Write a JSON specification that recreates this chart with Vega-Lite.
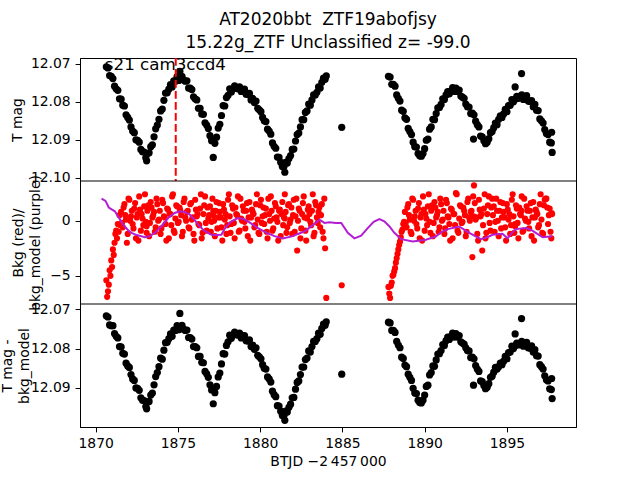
{
"$schema": "https://vega.github.io/schema/vega-lite/v6.json",
"width": 496, "height": 369,
"autosize": {"type": "none"},
"padding": {"left": 80, "top": 58, "right": 64, "bottom": 53},
"background": "white",
"title": {"text": ["AT2020bbt\u00a0 ZTF19abofjsy", "15.22g_ZTF Unclassified z= -99.0"], "anchor": "middle", "frame": "group", "font": "DejaVu Sans", "fontSize": 17, "fontWeight": "normal", "lineHeight": 23, "offset": 5, "color": "black"},
"config": {
  "view": {"stroke": "black", "strokeWidth": 1},
  "axis": {"domainColor": "black", "tickColor": "black", "labelColor": "black", "titleColor": "black", "labelFont": "DejaVu Sans", "titleFont": "DejaVu Sans", "labelFontSize": 13.9, "titleFontSize": 13.9, "titleFontWeight": "normal", "tickSize": 4.9, "labelPadding": 4.9, "grid": false, "domainWidth": 1, "tickWidth": 1, "labelFlush": false, "labelOverlap": false}
},
"datasets": {
"lc": [
{"t":1870.65,"m":12.0708,"b":-5.4,"c":12.0717},
{"t":1870.75,"m":12.0711,"b":-6.4,"c":12.0720},
{"t":1870.85,"m":12.0731,"b":-4.5,"c":12.0740},
{"t":1870.95,"m":12.0733,"b":-3.6,"c":12.0742},
{"t":1871.05,"m":12.0739,"b":-2.6,"c":12.0742},
{"t":1871.15,"m":12.0759,"b":-2.0,"c":12.0762},
{"t":1871.25,"m":12.0766,"b":-0.9,"c":12.0769},
{"t":1871.35,"m":12.0770,"b":-0.3,"c":12.0773},
{"t":1871.45,"m":12.0792,"b":0.5,"c":12.0795},
{"t":1871.55,"m":12.0793,"b":0.8,"c":12.0796},
{"t":1871.65,"m":12.0809,"b":-0.6,"c":12.0812},
{"t":1871.75,"m":12.0811,"b":1.5,"c":12.0814},
{"t":1871.85,"m":12.0834,"b":0.1,"c":12.0837},
{"t":1871.95,"m":12.0841,"b":-1.2,"c":12.0844},
{"t":1872.05,"m":12.0848,"b":1.9,"c":12.0848},
{"t":1872.15,"m":12.0866,"b":0.4,"c":12.0866},
{"t":1872.25,"m":12.0877,"b":-0.3,"c":12.0877},
{"t":1872.35,"m":12.0881,"b":1.1,"c":12.0881},
{"t":1872.45,"m":12.0900,"b":-1.6,"c":12.0900},
{"t":1872.55,"m":12.0901,"b":0.6,"c":12.0901},
{"t":1872.65,"m":12.0906,"b":2.2,"c":12.0906},
{"t":1872.75,"m":12.0925,"b":-0.9,"c":12.0925},
{"t":1872.85,"m":12.0931,"b":0.2,"c":12.0931},
{"t":1872.95,"m":12.0932,"b":1.3,"c":12.0932},
{"t":1873.05,"m":12.0947,"b":-0.1,"c":12.0947},
{"t":1873.15,"m":12.0936,"b":0.9,"c":12.0936},
{"t":1873.25,"m":12.0934,"b":-1.4,"c":12.0934},
{"t":1873.35,"m":12.0918,"b":1.7,"c":12.0918},
{"t":1873.45,"m":12.0913,"b":0.3,"c":12.0913},
{"t":1873.55,"m":12.0892,"b":0.8,"c":12.0892},
{"t":1873.65,"m":12.0871,"b":-0.6,"c":12.0871},
{"t":1873.75,"m":12.0861,"b":1.5,"c":12.0861},
{"t":1873.85,"m":12.0846,"b":0.1,"c":12.0846},
{"t":1873.95,"m":12.0824,"b":-1.2,"c":12.0824},
{"t":1874.05,"m":12.0819,"b":1.9,"c":12.0827},
{"t":1874.15,"m":12.0796,"b":0.4,"c":12.0804},
{"t":1874.25,"m":12.0777,"b":-0.3,"c":12.0785},
{"t":1874.35,"m":12.0776,"b":1.1,"c":12.0784},
{"t":1874.45,"m":12.0767,"b":-1.6,"c":12.0775},
{"t":1874.55,"m":12.0755,"b":0.6,"c":12.0763},
{"t":1874.65,"m":12.0761,"b":2.2,"c":12.0769},
{"t":1874.75,"m":12.0745,"b":-0.9,"c":12.0753},
{"t":1874.85,"m":12.0746,"b":0.2,"c":12.0754},
{"t":1874.95,"m":12.0734,"b":1.3,"c":12.0742},
{"t":1875.05,"m":12.0744,"b":-0.1,"c":12.0752},
{"t":1875.15,"m":12.0736,"b":0.9,"c":12.0744},
{"t":1875.25,"m":12.0733,"b":-1.4,"c":12.0741},
{"t":1875.35,"m":12.0743,"b":1.7,"c":12.0751},
{"t":1875.45,"m":12.0746,"b":0.3,"c":12.0754},
{"t":1875.55,"m":12.0745,"b":0.8,"c":12.0753},
{"t":1875.65,"m":12.0764,"b":-0.6,"c":12.0772},
{"t":1875.75,"m":12.0764,"b":1.5,"c":12.0772},
{"t":1875.85,"m":12.0768,"b":0.1,"c":12.0776},
{"t":1875.95,"m":12.0787,"b":-1.2,"c":12.0795},
{"t":1876.05,"m":12.0792,"b":1.9,"c":12.0795},
{"t":1876.15,"m":12.0795,"b":0.4,"c":12.0798},
{"t":1876.25,"m":12.0817,"b":-0.3,"c":12.0820},
{"t":1876.35,"m":12.0817,"b":1.1,"c":12.0820},
{"t":1876.45,"m":12.0832,"b":-1.6,"c":12.0835},
{"t":1876.55,"m":12.0833,"b":0.6,"c":12.0836},
{"t":1876.65,"m":12.0855,"b":2.2,"c":12.0858},
{"t":1876.75,"m":12.0861,"b":-0.9,"c":12.0864},
{"t":1876.85,"m":12.0870,"b":0.2,"c":12.0873},
{"t":1876.95,"m":12.0889,"b":1.3,"c":12.0892},
{"t":1877.05,"m":12.0902,"b":-0.1,"c":12.0905},
{"t":1877.15,"m":12.0901,"b":0.9,"c":12.0904},
{"t":1877.25,"m":12.0909,"b":-1.4,"c":12.0912},
{"t":1877.35,"m":12.0893,"b":1.7,"c":12.0896},
{"t":1877.45,"m":12.0869,"b":0.3,"c":12.0872},
{"t":1877.55,"m":12.0859,"b":0.8,"c":12.0862},
{"t":1877.65,"m":12.0836,"b":-0.6,"c":12.0839},
{"t":1877.75,"m":12.0810,"b":1.5,"c":12.0813},
{"t":1877.85,"m":12.0811,"b":0.1,"c":12.0814},
{"t":1877.95,"m":12.0789,"b":-1.2,"c":12.0792},
{"t":1878.05,"m":12.0783,"b":1.9,"c":12.0783},
{"t":1878.15,"m":12.0766,"b":0.4,"c":12.0766},
{"t":1878.25,"m":12.0774,"b":-0.3,"c":12.0774},
{"t":1878.35,"m":12.0766,"b":1.1,"c":12.0766},
{"t":1878.45,"m":12.0758,"b":-1.6,"c":12.0758},
{"t":1878.55,"m":12.0764,"b":0.6,"c":12.0764},
{"t":1878.65,"m":12.0766,"b":2.2,"c":12.0766},
{"t":1878.75,"m":12.0761,"b":-0.9,"c":12.0761},
{"t":1878.85,"m":12.0773,"b":0.2,"c":12.0773},
{"t":1878.95,"m":12.0768,"b":1.3,"c":12.0768},
{"t":1879.05,"m":12.0767,"b":-0.1,"c":12.0767},
{"t":1879.15,"m":12.0780,"b":0.9,"c":12.0780},
{"t":1879.25,"m":12.0781,"b":-1.4,"c":12.0781},
{"t":1879.35,"m":12.0778,"b":1.7,"c":12.0778},
{"t":1879.45,"m":12.0795,"b":0.3,"c":12.0795},
{"t":1879.55,"m":12.0791,"b":0.8,"c":12.0791},
{"t":1879.65,"m":12.0802,"b":-0.6,"c":12.0802},
{"t":1879.75,"m":12.0798,"b":1.5,"c":12.0798},
{"t":1879.85,"m":12.0817,"b":0.1,"c":12.0817},
{"t":1879.95,"m":12.0821,"b":-1.2,"c":12.0821},
{"t":1880.05,"m":12.0826,"b":1.9,"c":12.0826},
{"t":1880.15,"m":12.0841,"b":0.4,"c":12.0841},
{"t":1880.25,"m":12.0850,"b":-0.3,"c":12.0850},
{"t":1880.35,"m":12.0852,"b":1.1,"c":12.0852},
{"t":1880.45,"m":12.0872,"b":-1.6,"c":12.0872},
{"t":1880.55,"m":12.0877,"b":0.6,"c":12.0877},
{"t":1880.65,"m":12.0885,"b":2.2,"c":12.0885},
{"t":1880.75,"m":12.0908,"b":-0.9,"c":12.0908},
{"t":1880.85,"m":12.0917,"b":0.2,"c":12.0917},
{"t":1880.95,"m":12.0922,"b":1.3,"c":12.0922},
{"t":1881.05,"m":12.0945,"b":-0.1,"c":12.0945},
{"t":1881.15,"m":12.0946,"b":0.9,"c":12.0946},
{"t":1881.25,"m":12.0959,"b":-1.4,"c":12.0959},
{"t":1881.35,"m":12.0970,"b":1.7,"c":12.0970},
{"t":1881.45,"m":12.0970,"b":0.3,"c":12.0970},
{"t":1881.55,"m":12.0959,"b":0.8,"c":12.0959},
{"t":1881.65,"m":12.0961,"b":-0.6,"c":12.0961},
{"t":1881.75,"m":12.0949,"b":1.5,"c":12.0949},
{"t":1881.85,"m":12.0941,"b":0.1,"c":12.0941},
{"t":1881.95,"m":12.0925,"b":-1.2,"c":12.0925},
{"t":1882.05,"m":12.0924,"b":1.9,"c":12.0924},
{"t":1882.15,"m":12.0903,"b":0.4,"c":12.0903},
{"t":1882.25,"m":12.0886,"b":-2.7,"c":12.0886},
{"t":1882.35,"m":12.0882,"b":1.1,"c":12.0882},
{"t":1882.45,"m":12.0866,"b":-1.6,"c":12.0866},
{"t":1882.55,"m":12.0847,"b":0.6,"c":12.0847},
{"t":1882.65,"m":12.0847,"b":2.2,"c":12.0847},
{"t":1882.75,"m":12.0828,"b":-0.9,"c":12.0828},
{"t":1882.85,"m":12.0824,"b":0.2,"c":12.0824},
{"t":1882.95,"m":12.0806,"b":1.3,"c":12.0806},
{"t":1883.05,"m":12.0809,"b":-0.1,"c":12.0809},
{"t":1883.15,"m":12.0795,"b":0.9,"c":12.0795},
{"t":1883.25,"m":12.0782,"b":-1.4,"c":12.0782},
{"t":1883.35,"m":12.0782,"b":1.7,"c":12.0782},
{"t":1883.45,"m":12.0775,"b":0.3,"c":12.0775},
{"t":1883.55,"m":12.0761,"b":0.8,"c":12.0761},
{"t":1883.65,"m":12.0764,"b":-0.6,"c":12.0764},
{"t":1883.75,"m":12.0749,"b":1.5,"c":12.0749},
{"t":1883.85,"m":12.0738,"b":-1.6,"c":12.0738},
{"t":1883.95,"m":12.0741,"b":-2.5,"c":12.0741},
{"t":1884.02,"m":12.0732,"b":-7.0,"c":12.0732},
{"t":1884.96,"m":12.0867,"b":-5.85,"c":12.0865},
{"t":1877.15,"m":12.0946,"b":0.5,"c":12.0940},
{"t":1875.12,"m":12.0720,"b":1.0,"c":12.0711},
{"t":1881.50,"m":12.0985,"b":0.2,"c":12.0982},
{"t":1873.10,"m":12.0955,"b":-0.5,"c":12.0953},
{"t":1887.80,"m":12.0733,"b":-6.0,"c":12.0733},
{"t":1887.90,"m":12.0735,"b":-7.0,"c":12.0735},
{"t":1888.00,"m":12.0754,"b":-5.6,"c":12.0754},
{"t":1888.10,"m":12.0754,"b":-4.9,"c":12.0754},
{"t":1888.20,"m":12.0759,"b":-4.3,"c":12.0759},
{"t":1888.30,"m":12.0782,"b":-3.4,"c":12.0782},
{"t":1888.40,"m":12.0791,"b":-2.6,"c":12.0791},
{"t":1888.50,"m":12.0798,"b":-1.9,"c":12.0798},
{"t":1888.60,"m":12.0822,"b":-1.0,"c":12.0822},
{"t":1888.70,"m":12.0825,"b":-0.3,"c":12.0825},
{"t":1888.80,"m":12.0842,"b":0.8,"c":12.0842},
{"t":1888.90,"m":12.0846,"b":-0.6,"c":12.0846},
{"t":1889.00,"m":12.0870,"b":1.5,"c":12.0865},
{"t":1889.10,"m":12.0878,"b":0.1,"c":12.0873},
{"t":1889.20,"m":12.0886,"b":-1.2,"c":12.0881},
{"t":1889.30,"m":12.0906,"b":1.9,"c":12.0901},
{"t":1889.40,"m":12.0918,"b":0.4,"c":12.0913},
{"t":1889.50,"m":12.0919,"b":-0.3,"c":12.0914},
{"t":1889.60,"m":12.0936,"b":1.1,"c":12.0931},
{"t":1889.70,"m":12.0942,"b":-1.6,"c":12.0937},
{"t":1889.80,"m":12.0943,"b":0.6,"c":12.0938},
{"t":1889.90,"m":12.0936,"b":2.2,"c":12.0931},
{"t":1890.00,"m":12.0923,"b":-0.9,"c":12.0918},
{"t":1890.10,"m":12.0901,"b":0.2,"c":12.0896},
{"t":1890.20,"m":12.0898,"b":1.3,"c":12.0893},
{"t":1890.30,"m":12.0872,"b":-0.1,"c":12.0867},
{"t":1890.40,"m":12.0866,"b":0.9,"c":12.0861},
{"t":1890.50,"m":12.0846,"b":-1.4,"c":12.0844},
{"t":1890.60,"m":12.0847,"b":1.7,"c":12.0845},
{"t":1890.70,"m":12.0831,"b":0.3,"c":12.0829},
{"t":1890.80,"m":12.0816,"b":0.8,"c":12.0814},
{"t":1890.90,"m":12.0815,"b":-0.6,"c":12.0813},
{"t":1891.00,"m":12.0807,"b":1.5,"c":12.0805},
{"t":1891.10,"m":12.0792,"b":0.1,"c":12.0790},
{"t":1891.20,"m":12.0794,"b":-1.2,"c":12.0792},
{"t":1891.30,"m":12.0782,"b":1.9,"c":12.0780},
{"t":1891.40,"m":12.0773,"b":0.4,"c":12.0771},
{"t":1891.50,"m":12.0779,"b":-0.3,"c":12.0777},
{"t":1891.60,"m":12.0771,"b":1.1,"c":12.0769},
{"t":1891.70,"m":12.0763,"b":-1.6,"c":12.0761},
{"t":1891.80,"m":12.0773,"b":0.6,"c":12.0771},
{"t":1891.90,"m":12.0764,"b":2.5,"c":12.0762},
{"t":1892.00,"m":12.0773,"b":-0.9,"c":12.0771},
{"t":1892.10,"m":12.0769,"b":0.2,"c":12.0767},
{"t":1892.20,"m":12.0785,"b":1.3,"c":12.0783},
{"t":1892.30,"m":12.0788,"b":-0.1,"c":12.0786},
{"t":1892.40,"m":12.0791,"b":0.9,"c":12.0789},
{"t":1892.50,"m":12.0806,"b":-1.4,"c":12.0798},
{"t":1892.60,"m":12.0813,"b":1.7,"c":12.0805},
{"t":1892.70,"m":12.0814,"b":0.3,"c":12.0806},
{"t":1892.80,"m":12.0831,"b":0.8,"c":12.0823},
{"t":1892.90,"m":12.0830,"b":-3.3,"c":12.0822},
{"t":1893.00,"m":12.0834,"b":3.2,"c":12.0826},
{"t":1893.10,"m":12.0851,"b":0.1,"c":12.0843},
{"t":1893.20,"m":12.0860,"b":-1.2,"c":12.0852},
{"t":1893.30,"m":12.0866,"b":1.9,"c":12.0858},
{"t":1893.40,"m":12.0890,"b":0.4,"c":12.0882},
{"t":1893.50,"m":12.0892,"b":-2.7,"c":12.0884},
{"t":1893.60,"m":12.0902,"b":1.1,"c":12.0894},
{"t":1893.70,"m":12.0910,"b":-1.6,"c":12.0902},
{"t":1893.80,"m":12.0906,"b":0.6,"c":12.0898},
{"t":1893.90,"m":12.0897,"b":2.2,"c":12.0889},
{"t":1894.00,"m":12.0881,"b":-0.9,"c":12.0873},
{"t":1894.10,"m":12.0878,"b":2.0,"c":12.0870},
{"t":1894.20,"m":12.0868,"b":1.3,"c":12.0860},
{"t":1894.30,"m":12.0856,"b":-0.1,"c":12.0848},
{"t":1894.40,"m":12.0860,"b":0.9,"c":12.0852},
{"t":1894.50,"m":12.0846,"b":-1.4,"c":12.0846},
{"t":1894.60,"m":12.0837,"b":1.7,"c":12.0837},
{"t":1894.70,"m":12.0841,"b":0.3,"c":12.0841},
{"t":1894.80,"m":12.0832,"b":0.8,"c":12.0832},
{"t":1894.90,"m":12.0820,"b":-0.6,"c":12.0820},
{"t":1895.00,"m":12.0826,"b":1.5,"c":12.0826},
{"t":1895.10,"m":12.0810,"b":0.1,"c":12.0810},
{"t":1895.20,"m":12.0809,"b":-1.2,"c":12.0809},
{"t":1895.30,"m":12.0794,"b":1.9,"c":12.0794},
{"t":1895.40,"m":12.0800,"b":0.4,"c":12.0800},
{"t":1895.50,"m":12.0793,"b":-0.3,"c":12.0793},
{"t":1895.60,"m":12.0786,"b":1.1,"c":12.0786},
{"t":1895.70,"m":12.0791,"b":-1.6,"c":12.0791},
{"t":1895.80,"m":12.0788,"b":0.6,"c":12.0788},
{"t":1895.90,"m":12.0782,"b":2.2,"c":12.0782},
{"t":1896.00,"m":12.0794,"b":-0.9,"c":12.0794},
{"t":1896.10,"m":12.0787,"b":0.2,"c":12.0787},
{"t":1896.20,"m":12.0784,"b":1.3,"c":12.0784},
{"t":1896.30,"m":12.0798,"b":-0.1,"c":12.0798},
{"t":1896.40,"m":12.0799,"b":0.9,"c":12.0799},
{"t":1896.50,"m":12.0797,"b":-1.4,"c":12.0793},
{"t":1896.60,"m":12.0813,"b":1.7,"c":12.0809},
{"t":1896.70,"m":12.0807,"b":0.3,"c":12.0803},
{"t":1896.80,"m":12.0822,"b":0.8,"c":12.0818},
{"t":1896.90,"m":12.0823,"b":-0.6,"c":12.0819},
{"t":1897.00,"m":12.0845,"b":1.5,"c":12.0841},
{"t":1897.10,"m":12.0850,"b":0.1,"c":12.0846},
{"t":1897.20,"m":12.0856,"b":-1.2,"c":12.0852},
{"t":1897.30,"m":12.0873,"b":1.9,"c":12.0869},
{"t":1897.40,"m":12.0883,"b":2.0,"c":12.0879},
{"t":1897.50,"m":12.0886,"b":-0.3,"c":12.0882},
{"t":1897.60,"m":12.0906,"b":1.1,"c":12.0902},
{"t":1897.70,"m":12.0908,"b":-1.6,"c":12.0904},
{"t":1897.75,"m":12.0933,"b":0.6,"c":12.0927},
{"t":1892.97,"m":12.0898,"b":0.4,"c":12.0893},
{"t":1895.89,"m":12.0726,"b":0.9,"c":12.0724},
{"t":1895.50,"m":12.0761,"b":-0.5,"c":12.0763},
{"t":1897.72,"m":12.0880,"b":0.7,"c":12.0876}
],
"bk2": [
{"t":1870.70,"b":-6.9},{"t":1870.80,"b":-5.8},{"t":1870.90,"b":-5.0},{"t":1871.00,"b":-4.2},{"t":1871.10,"b":-3.1},{"t":1871.20,"b":-1.2},{"t":1871.30,"b":-1.6},{"t":1871.40,"b":-1.0},{"t":1871.50,"b":-0.4},
{"t":1871.60,"b":-0.2},{"t":1871.70,"b":1.2},{"t":1871.80,"b":0.5},{"t":1871.90,"b":-2.0},{"t":1872.00,"b":2.0},{"t":1872.10,"b":0.0},{"t":1872.20,"b":0.9},{"t":1872.30,"b":-0.7},{"t":1872.40,"b":1.6},{"t":1872.50,"b":0.3},{"t":1872.60,"b":-1.8},{"t":1872.70,"b":1.0},{"t":1872.80,"b":0.6},{"t":1872.90,"b":-0.4},{"t":1873.00,"b":2.4},{"t":1873.10,"b":-1.1},{"t":1873.20,"b":1.4},
{"t":1873.30,"b":-0.2},{"t":1873.40,"b":1.2},{"t":1873.50,"b":0.5},{"t":1873.60,"b":-1.0},{"t":1873.70,"b":2.0},{"t":1873.80,"b":0.0},{"t":1873.90,"b":0.9},{"t":1874.00,"b":-0.7},{"t":1874.10,"b":1.6},{"t":1874.20,"b":0.3},{"t":1874.30,"b":-1.8},{"t":1874.40,"b":1.0},{"t":1874.50,"b":0.6},{"t":1874.60,"b":-0.4},{"t":1874.70,"b":2.4},{"t":1874.80,"b":-1.1},{"t":1874.90,"b":1.4},
{"t":1875.00,"b":-0.2},{"t":1875.10,"b":1.2},{"t":1875.20,"b":0.5},{"t":1875.30,"b":-1.0},{"t":1875.40,"b":2.0},{"t":1875.50,"b":0.0},{"t":1875.60,"b":0.9},{"t":1875.70,"b":-0.7},{"t":1875.80,"b":1.6},{"t":1875.90,"b":0.3},{"t":1876.00,"b":-1.8},{"t":1876.10,"b":1.0},{"t":1876.20,"b":0.6},{"t":1876.30,"b":-0.4},{"t":1876.40,"b":2.4},{"t":1876.50,"b":-1.1},{"t":1876.60,"b":1.4},
{"t":1876.70,"b":-0.2},{"t":1876.80,"b":1.2},{"t":1876.90,"b":0.5},{"t":1877.00,"b":-1.0},{"t":1877.10,"b":2.0},{"t":1877.20,"b":0.0},{"t":1877.30,"b":0.9},{"t":1877.40,"b":-0.7},{"t":1877.50,"b":1.6},{"t":1877.60,"b":0.3},{"t":1877.70,"b":-1.8},{"t":1877.80,"b":1.0},{"t":1877.90,"b":0.6},{"t":1878.00,"b":-0.4},{"t":1878.10,"b":2.4},{"t":1878.20,"b":-1.1},{"t":1878.30,"b":1.4},
{"t":1878.40,"b":-0.2},{"t":1878.50,"b":1.2},{"t":1878.60,"b":0.5},{"t":1878.70,"b":-1.0},{"t":1878.80,"b":2.0},{"t":1878.90,"b":0.0},{"t":1879.00,"b":0.9},{"t":1879.10,"b":-0.7},{"t":1879.20,"b":1.6},{"t":1879.30,"b":0.3},{"t":1879.40,"b":-1.8},{"t":1879.50,"b":1.0},{"t":1879.60,"b":0.6},{"t":1879.70,"b":-0.4},{"t":1879.80,"b":2.4},{"t":1879.90,"b":-1.1},{"t":1880.00,"b":1.4},
{"t":1880.10,"b":-0.2},{"t":1880.20,"b":1.2},{"t":1880.30,"b":0.5},{"t":1880.40,"b":-1.0},{"t":1880.50,"b":2.0},{"t":1880.60,"b":0.0},{"t":1880.70,"b":0.9},{"t":1880.80,"b":-0.7},{"t":1880.90,"b":1.6},{"t":1881.00,"b":0.3},{"t":1881.10,"b":-1.8},{"t":1881.20,"b":1.0},{"t":1881.30,"b":0.6},{"t":1881.40,"b":-0.4},{"t":1881.50,"b":2.4},{"t":1881.60,"b":-1.1},{"t":1881.70,"b":1.4},
{"t":1881.80,"b":-0.2},{"t":1881.90,"b":1.2},{"t":1882.00,"b":0.5},{"t":1882.10,"b":-1.0},{"t":1882.20,"b":2.0},{"t":1882.30,"b":0.0},{"t":1882.40,"b":0.9},{"t":1882.50,"b":-0.7},{"t":1882.60,"b":1.6},{"t":1882.70,"b":0.3},{"t":1882.80,"b":-1.8},{"t":1882.90,"b":1.0},{"t":1883.00,"b":0.6},{"t":1883.10,"b":-0.4},{"t":1883.20,"b":2.4},{"t":1883.30,"b":-1.1},{"t":1883.40,"b":1.4},
{"t":1883.50,"b":-0.2},{"t":1883.60,"b":1.2},{"t":1883.70,"b":0.5},{"t":1883.80,"b":-1.0},{"t":1883.90,"b":2.0},
{"t":1887.85,"b":-6.6},{"t":1887.95,"b":-5.9},{"t":1888.05,"b":-5.0},{"t":1888.15,"b":-4.6},{"t":1888.25,"b":-3.8},{"t":1888.35,"b":-3.0},{"t":1888.45,"b":-2.2},{"t":1888.55,"b":-1.5},{"t":1888.65,"b":-0.8},{"t":1888.75,"b":-0.1},
{"t":1888.85,"b":-0.2},{"t":1888.95,"b":1.2},{"t":1889.05,"b":0.5},{"t":1889.15,"b":-1.0},{"t":1889.25,"b":2.0},{"t":1889.35,"b":0.0},{"t":1889.45,"b":0.9},{"t":1889.55,"b":-0.7},{"t":1889.65,"b":1.6},{"t":1889.75,"b":0.3},{"t":1889.85,"b":-1.8},{"t":1889.95,"b":1.0},{"t":1890.05,"b":0.6},{"t":1890.15,"b":-0.4},{"t":1890.25,"b":2.4},{"t":1890.35,"b":-1.1},{"t":1890.45,"b":1.4},
{"t":1890.55,"b":-0.2},{"t":1890.65,"b":1.2},{"t":1890.75,"b":0.5},{"t":1890.85,"b":-1.0},{"t":1890.95,"b":2.0},{"t":1891.05,"b":0.0},{"t":1891.15,"b":0.9},{"t":1891.25,"b":-0.7},{"t":1891.35,"b":1.6},{"t":1891.45,"b":0.3},{"t":1891.55,"b":-1.8},{"t":1891.65,"b":1.0},{"t":1891.75,"b":0.6},{"t":1891.85,"b":-0.4},{"t":1891.95,"b":2.4},{"t":1892.05,"b":-1.1},{"t":1892.15,"b":1.4},
{"t":1892.25,"b":-0.2},{"t":1892.35,"b":1.2},{"t":1892.45,"b":0.5},{"t":1892.55,"b":-1.0},{"t":1892.65,"b":2.0},{"t":1892.75,"b":0.0},{"t":1892.85,"b":0.9},{"t":1892.95,"b":2.2},{"t":1893.05,"b":1.6},{"t":1893.15,"b":0.3},{"t":1893.25,"b":-1.8},{"t":1893.35,"b":1.0},{"t":1893.45,"b":0.6},{"t":1893.55,"b":-0.4},{"t":1893.65,"b":2.4},{"t":1893.75,"b":-1.1},{"t":1893.85,"b":1.4},
{"t":1893.95,"b":-0.2},{"t":1894.05,"b":1.2},{"t":1894.15,"b":0.5},{"t":1894.25,"b":-1.0},{"t":1894.35,"b":2.0},{"t":1894.45,"b":0.0},{"t":1894.55,"b":0.9},{"t":1894.65,"b":-0.7},{"t":1894.75,"b":1.6},{"t":1894.85,"b":0.3},{"t":1894.95,"b":-1.8},{"t":1895.05,"b":1.0},{"t":1895.15,"b":0.6},{"t":1895.25,"b":-0.4},{"t":1895.35,"b":2.4},{"t":1895.45,"b":-1.1},{"t":1895.55,"b":1.4},
{"t":1895.65,"b":-0.2},{"t":1895.75,"b":1.2},{"t":1895.85,"b":0.5},{"t":1895.95,"b":-1.0},{"t":1896.05,"b":2.0},{"t":1896.15,"b":0.0},{"t":1896.25,"b":0.9},{"t":1896.35,"b":-0.7},{"t":1896.45,"b":1.6},{"t":1896.55,"b":0.3},{"t":1896.65,"b":-1.8},{"t":1896.75,"b":1.0},{"t":1896.85,"b":0.6},{"t":1896.95,"b":-0.4},{"t":1897.05,"b":2.4},{"t":1897.15,"b":-1.1},{"t":1897.25,"b":1.4},
{"t":1897.35,"b":2.0},{"t":1897.45,"b":1.2},{"t":1897.55,"b":0.5},{"t":1897.65,"b":-1.0}
],
"model": [
{"t":1870.36,"v":2.0},{"t":1870.6,"v":1.8},{"t":1870.8,"v":1.2},{"t":1871.0,"v":1.0},{"t":1871.17,"v":0.85},{"t":1871.4,"v":0.3},{"t":1871.7,"v":-0.4},{"t":1872.0,"v":-0.9},{"t":1872.18,"v":-1.1},{"t":1872.5,"v":-1.3},{"t":1872.99,"v":-1.5},{"t":1873.3,"v":-1.4},{"t":1873.6,"v":-1.1},{"t":1874.0,"v":-0.5},{"t":1874.41,"v":0.24},{"t":1874.8,"v":0.7},{"t":1875.12,"v":0.85},{"t":1875.4,"v":0.8},{"t":1875.72,"v":0.55},{"t":1876.0,"v":0.1},{"t":1876.23,"v":-0.36},{"t":1876.6,"v":-0.9},{"t":1877.04,"v":-1.27},{"t":1877.3,"v":-1.3},{"t":1877.64,"v":-1.27},{"t":1877.9,"v":-0.6},{"t":1878.25,"v":-0.06},{"t":1878.65,"v":0.24},{"t":1879.0,"v":0.15},{"t":1879.26,"v":-0.06},{"t":1879.87,"v":-0.67},{"t":1880.4,"v":-1.1},{"t":1880.88,"v":-1.4},{"t":1881.38,"v":-1.6},{"t":1881.99,"v":-1.4},{"t":1882.3,"v":-1.2},{"t":1882.7,"v":-0.97},{"t":1883.2,"v":-0.4},{"t":1883.61,"v":0.09},{"t":1883.91,"v":-0.2},{"t":1884.22,"v":-0.15},{"t":1884.6,"v":-0.2},{"t":1884.93,"v":-0.2},{"t":1885.33,"v":-1.1},{"t":1885.73,"v":-1.6},{"t":1886.14,"v":-1.36},{"t":1886.54,"v":-0.67},{"t":1886.9,"v":-0.1},{"t":1887.25,"v":0.15},{"t":1887.55,"v":-0.06},{"t":1887.85,"v":-0.5},{"t":1888.16,"v":-1.1},{"t":1888.57,"v":-1.67},{"t":1889.27,"v":-1.88},{"t":1890.08,"v":-1.73},{"t":1890.69,"v":-1.42},{"t":1891.05,"v":-1.0},{"t":1891.4,"v":-0.76},{"t":1892.1,"v":-0.52},{"t":1892.4,"v":-0.8},{"t":1892.71,"v":-1.1},{"t":1893.42,"v":-1.67},{"t":1893.8,"v":-1.5},{"t":1894.13,"v":-1.27},{"t":1894.73,"v":-1.18},{"t":1895.04,"v":-1.6},{"t":1895.3,"v":-1.1},{"t":1895.55,"v":-0.76},{"t":1896.15,"v":-0.67},{"t":1896.5,"v":-0.85},{"t":1896.76,"v":-1.1},{"t":1897.17,"v":-1.5},{"t":1897.77,"v":-1.4}
]
},
"layer": [
{
 "layer": [
  {"data": {"name": "lc"}, "mark": {"type": "circle", "color": "black", "size": 52, "opacity": 1},
   "encoding": {
    "x": {"field": "t", "type": "quantitative", "scale": {"domain": [1869.05, 1899.2], "nice": false, "zero": false},
          "axis": {"values": [1870, 1875, 1880, 1885, 1890, 1895], "format": "d", "title": "BTJD \u22122\u2009457\u2009000", "titlePadding": 4}},
    "y": {"field": "m", "type": "quantitative", "scale": {"domain": [12.0685, 12.1008], "range": [0, 123], "nice": false, "zero": false},
          "axis": {"orient": "left", "values": [12.07, 12.08, 12.09, 12.1], "format": ".2f", "title": "T mag", "titleX": -63, "titleBaseline": "middle"}}
   }},
  {"data": {"values": [{}]}, "mark": {"type": "rule", "color": "red", "strokeWidth": 2, "strokeDash": [7.7, 3.3]},
   "encoding": {"x": {"datum": 1874.87, "type": "quantitative", "scale": {"domain": [1869.05, 1899.2], "nice": false, "zero": false}}, "y": {"datum": 12.0685, "type": "quantitative"}, "y2": {"datum": 12.1008}}},
  {"data": {"values": [{}]}, "mark": {"type": "rule", "color": "black", "strokeWidth": 1},
   "encoding": {"y": {"datum": 12.1008, "type": "quantitative"}}},
  {"data": {"values": [{}]}, "mark": {"type": "text", "text": "s21 cam3ccd4", "align": "left", "baseline": "alphabetic", "font": "DejaVu Sans", "fontSize": 16.7, "color": "black"},
   "encoding": {"x": {"datum": 1870.56, "type": "quantitative", "scale": {"domain": [1869.05, 1899.2], "nice": false, "zero": false}}, "y": {"datum": 12.0716, "type": "quantitative"}}}
 ]
},
{
 "layer": [
  {"data": {"name": "lc"}, "mark": {"type": "circle", "color": "red", "size": 38, "opacity": 1},
   "encoding": {
    "x": {"field": "t", "type": "quantitative", "scale": {"domain": [1869.05, 1899.2], "nice": false, "zero": false}},
    "y": {"field": "b", "type": "quantitative", "scale": {"domain": [-7.55, 3.6], "range": [246, 123], "nice": false, "zero": false},
          "axis": {"orient": "left", "values": [-5, 0], "format": "d", "title": ["Bkg (red)/", "bkg_model (purple)"], "titleX": -62, "titleBaseline": "middle", "titleLineHeight": 17}}
   }},
  {"data": {"name": "bk2"}, "mark": {"type": "circle", "color": "red", "size": 38, "opacity": 1},
   "encoding": {
    "x": {"field": "t", "type": "quantitative", "scale": {"domain": [1869.05, 1899.2], "nice": false, "zero": false}},
    "y": {"field": "b", "type": "quantitative", "scale": {"domain": [-7.55, 3.6], "range": [246, 123], "nice": false, "zero": false}}
   }},
  {"data": {"name": "model"}, "mark": {"type": "line", "color": "#b41ed2", "strokeWidth": 2},
   "encoding": {
    "x": {"field": "t", "type": "quantitative", "scale": {"domain": [1869.05, 1899.2], "nice": false, "zero": false}},
    "y": {"field": "v", "type": "quantitative", "scale": {"domain": [-7.55, 3.6], "range": [246, 123], "nice": false, "zero": false}}
   }}
 ]
},
{
 "layer": [
  {"data": {"name": "lc"}, "mark": {"type": "circle", "color": "black", "size": 52, "opacity": 1},
   "encoding": {
    "x": {"field": "t", "type": "quantitative", "scale": {"domain": [1869.05, 1899.2], "nice": false, "zero": false}},
    "y": {"field": "c", "type": "quantitative", "scale": {"domain": [12.0687, 12.0999], "range": [246, 369], "nice": false, "zero": false},
          "axis": {"orient": "left", "values": [12.07, 12.08, 12.09], "format": ".2f", "title": ["T mag -", "bkg_model"], "titleX": -72.5, "titleBaseline": "middle", "titleLineHeight": 17}}
   }},
  {"data": {"values": [{}]}, "mark": {"type": "rule", "color": "black", "strokeWidth": 1},
   "encoding": {"y": {"datum": 12.0687, "type": "quantitative"}}}
 ]
}
],
"resolve": {"scale": {"y": "independent"}, "axis": {"y": "independent"}}
}
